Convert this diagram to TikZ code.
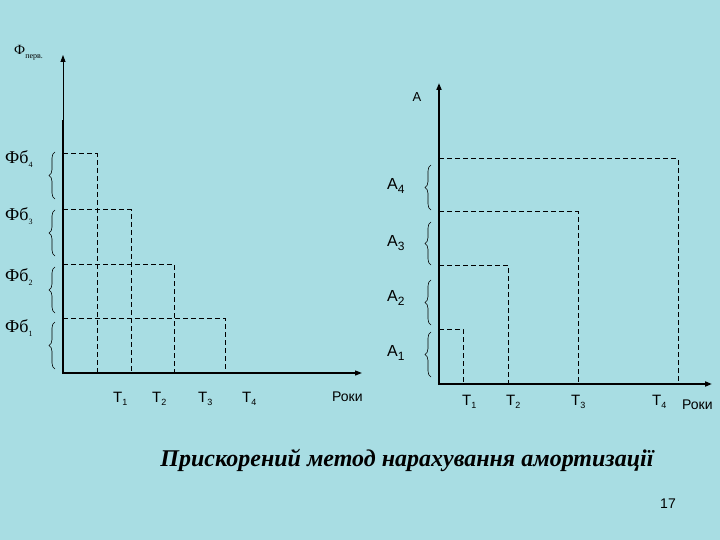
\documentclass[tikz,border=0pt]{standalone}
\usepackage{fontspec}
\setmainfont{Liberation Serif}
\setsansfont{Liberation Sans}
\usetikzlibrary{arrows.meta,decorations.pathreplacing}
\definecolor{slidebg}{RGB}{168,221,227}
\newcommand{\lowsub}[2]{\raisebox{-3.5pt}{\fontsize{#1}{#1}\selectfont #2}}
\tikzset{
  lev/.style={dash pattern=on 5pt off 3pt, line width=1pt},
  brc/.style={decorate, decoration={brace,amplitude=6pt}, line width=0.6pt},
  tip/.style={-{Triangle[length=7pt,width=5pt]}},
  lbl/.style={inner sep=0pt, anchor=west}
}
\begin{document}
\begin{tikzpicture}[x=1pt, y=-1pt, every node/.style={font=\sffamily}]
  \fill[slidebg] (0,0) rectangle (720,540);
  % left chart: axes
  \draw[tip, line width=0.8pt] (63,373) -- (63,55);
  \draw[line width=1.8pt] (63,120) -- (63,374);
  \draw[tip, line width=1.2pt] (62,373) -- (362,373);
  \node[lbl, font=\rmfamily] (phiP) at (14,53) {{\fontsize{14}{14}\selectfont Ф}\lowsub{8}{перв.}};
  % levels
  \foreach \x/\y in {97/154, 131/210, 174/264, 225/318} {\draw[lev] (63,\y) -| (\x,373);}
  \foreach \a/\b in {199/152, 256/210, 313/267, 369/322} {\draw[brc] (55,\a) -- (55,\b);}
  \foreach \i/\y in {4/159, 3/216, 2/277, 1/328} {\node[lbl, font=\rmfamily\fontsize{18}{18}\selectfont] (phi\i) at (5,\y) {Фб\lowsub{8}{\i}};}
  \foreach \i/\x in {1/113, 2/152, 3/198, 4/242} {\node[lbl, font=\sffamily\fontsize{15}{15}\selectfont] (tl\i) at (\x,399) {T\lowsub{9}{\i}};}
  \node[lbl, font=\sffamily\fontsize{14}{14}\selectfont] (rl) at (332,397) {Роки};
  % right chart: axes
  \draw[tip, line width=2.4pt] (439,385) -- (439,83);
  \draw[tip, line width=2pt] (438,384) -- (712,384);
  \node[font=\sffamily\fontsize{13}{13}\selectfont] (aa) at (417,97) {A};
  \foreach \x/\y in {678/159, 578/212, 508/265, 463/329} {\draw[lev] (439,\y) -| (\x,384);}
  \foreach \a/\b in {210/165, 265/222, 325/280, 377/332} {\draw[brc] (431,\a) -- (431,\b);}
  \foreach \i/\y in {4/186, 3/243, 2/298, 1/353} {\node[lbl, font=\sffamily\fontsize{16}{16}\selectfont] (a\i) at (387,\y) {A\lowsub{12}{\i}};}
  \foreach \i/\x in {1/462, 2/506, 3/571, 4/652} {\node[lbl, font=\sffamily\fontsize{15}{15}\selectfont] (tr\i) at (\x,402) {T\lowsub{9}{\i}};}
  \node[lbl, font=\sffamily\fontsize{14}{14}\selectfont] (rr) at (682,405) {Роки};
  % title and page number
  \node[font=\rmfamily\bfseries\itshape\fontsize{24}{24}\selectfont] (title) at (407,460) {Прискорений метод нарахування амортизації};
  \node[font=\sffamily\fontsize{14}{14}\selectfont] (pg) at (668,504) {17};
\end{tikzpicture}
\end{document}
